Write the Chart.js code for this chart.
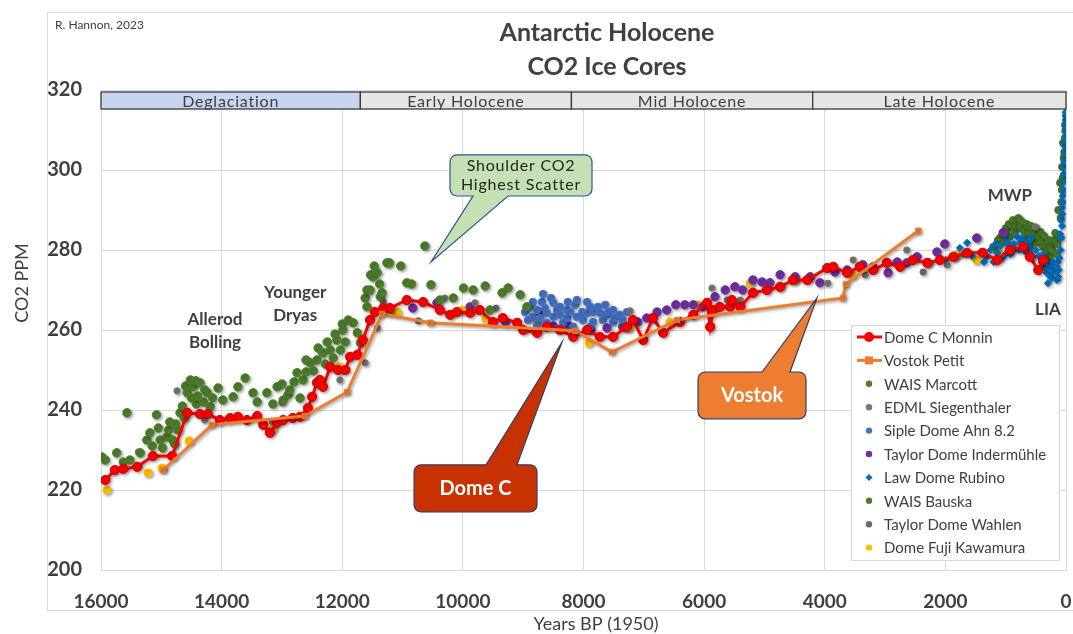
<!DOCTYPE html>
<html>
<head>
<meta charset="utf-8">
<title>Antarctic Holocene CO2 Ice Cores</title>
<script src="https://cdn.jsdelivr.net/npm/chart.js@4.4.0/dist/chart.umd.min.js"></script>
<style>
  html, body { margin: 0; padding: 0; background: #fff; }
  #wrap { width: 1073px; height: 634px; }
</style>
</head>
<body>
<div id="wrap"><canvas id="co2Chart" width="1073" height="634"></canvas></div>
<script>
// data: [years BP, CO2 ppm]
const domeCMonnin = [[15930,222.5],[15770,225],[15630,225.3],[15400,225.8],[15140,228.5],[14820,228.5],[14570,239.3],[14360,239],[14230,239],[14030,237.5],[13860,238],[13730,238.3],[13580,237.5],[13410,238.5],[13310,236.3],[13200,234.3],[13080,236.8],[12980,237.5],[12820,238],[12700,238.3],[12570,240.5],[12500,243.3],[12420,246.8],[12370,247.5],[12320,245.8],[12200,250.8],[12070,250],[11950,250],[11870,253.3],[11750,253.8],[11660,257.5],[11540,262.5],[11460,264.5],[11320,265.5],[11210,265.5],[10930,267.5],[10660,267],[10380,265],[10210,263.8],[10100,264.5],[9880,264.3],[9720,265],[9500,262],[9340,263],[9100,261.8],[9000,260],[8770,259.3],[8610,260.8],[8390,260],[8170,258.3],[7940,260],[7730,258.3],[7510,258.3],[7280,260.8],[7180,262.5],[7010,257.5],[6850,263],[6680,259.3],[6400,262],[6180,263.8],[5950,266.8],[5900,260.8],[5850,265],[5740,265.8],[5570,265.8],[5540,267.5],[5400,265.8],[5190,269.3],[4960,270],[4740,270.8],[4530,272.5],[4290,272.5],[3960,275.5],[3860,275.8],[3630,274.3],[3420,275.8],[3200,275],[2970,276.8],[2750,275.8],[2540,277.5],[2300,276.8],[2090,277.5],[1870,278.3],[1640,279.3],[1380,279.3],[1140,277.5],[930,280],[710,280.8],[600,278.3],[460,275],[380,277.5]];

const vostokPetit = [[14970,225],[14160,236.3],[12620,238.5],[11920,244.5],[11340,264],[10540,261.8],[8140,259.8],[7530,254.5],[6450,262.5],[3700,268],[3650,271.5],[2450,284.8]];

const waisMarcott = [[15990,228.3],[15930,227.5],[15740,229.3],[15630,227],[15570,239.3],[15520,227.5],[15350,229.3],[15240,232.5],[15190,234.3],[15150,231],[15080,238.8],[15050,235.5],[15020,232.5],[14980,230.5],[14910,233.3],[14880,235],[14860,237],[14810,232.5],[14780,231.5],[14760,236.5],[14730,235],[14690,239.3],[14650,241],[14620,238],[14600,246],[14570,244.3],[14520,247.5],[14500,243],[14470,245.8],[14430,247.3],[14420,241.5],[14400,243.5],[14360,246.8],[14300,242],[14280,245],[14240,244.3],[14190,240.8],[14150,243],[14060,245.5],[13980,242.5],[13810,243.3],[13730,245.8],[13610,248],[13480,244.3],[13410,242],[13250,244.3],[13150,241.5],[13080,245.8],[13000,246.5],[12980,242.5],[12900,243.8],[12870,245],[12800,247],[12750,249.3],[12700,243],[12650,247.5],[12600,249.5],[12600,252.5],[12530,251.8],[12480,249.8],[12420,252.5],[12400,255.5],[12320,254.3],[12280,251.5],[12250,257],[12200,255],[12150,253],[12120,259],[12090,257.5],[12030,255],[12000,261.5],[11990,260],[11950,257],[11900,262.5],[11820,261.8],[11750,259.3],[11700,256.8],[11620,268],[11590,265.8],[11590,270],[11540,270],[11530,273.8],[11490,273.3],[11470,276],[11420,274.3],[11380,271.5],[11370,268.3],[11340,269.3],[11260,276.8],[11220,276.8],[11030,276],[10930,271.8],[10850,271.5],[10630,281],[10530,271.3],[10380,267.5],[10160,268],[9990,270.5],[9830,270],[9630,271],[9550,265],[9350,269.3],[9250,270.5],[9050,268.8],[8940,265.8]];

const edmlSiegenthaler = [[15380,229.5],[14740,244.8],[14280,237.5],[13160,237],[13000,241.8],[12340,254.3],[12040,247.5],[11620,251.8],[11420,260.5],[11210,264.3],[10300,268],[9800,266.8],[8820,260],[7230,264.8],[5870,270.5],[5400,267.5],[4740,270.8],[3950,271.7],[3530,277.5],[2640,280],[1970,276.3],[510,285.8]];

const sipleDomeAhn = [[8970,264.5],[8920,262.5],[8890,265.8],[8840,267],[8840,263.3],[8770,265],[8770,261.3],[8720,263],[8690,267],[8670,269],[8640,265.5],[8610,264.3],[8610,261.8],[8540,268],[8500,266.8],[8500,263.3],[8440,265],[8390,265.8],[8390,263.8],[8340,261.8],[8270,265],[8270,263],[8260,267],[8220,264.5],[8170,260.8],[8140,266.3],[8110,267.5],[8110,263.3],[8020,264.5],[8010,262.5],[7940,267],[7940,264.3],[7890,265.8],[7890,260.8],[7840,264.5],[7840,262],[7760,265.8],[7730,264.3],[7680,262.5],[7640,266.3],[7610,263.8],[7590,264.5],[7510,265],[7510,262],[7480,263],[7400,263.8],[7350,262.5],[7280,264.5]];

const taylorDomeIndermuhle = [[10830,265.5],[10430,266.8],[9880,265.8],[9290,262],[8720,264.3],[8500,261],[8240,261],[7880,260],[7610,260.5],[7350,260.8],[7100,262],[6950,263],[6780,264.5],[6620,265],[6470,266.3],[6320,266.3],[6180,266.3],[6020,265.8],[5820,268.3],[5650,270],[5490,270.8],[5360,270],[5190,272.5],[5040,272],[4910,271.8],[4740,273.8],[4490,273.3],[4240,273.3],[4080,271.8],[3830,274.5],[3630,275],[3370,276.3],[3200,275.8],[2950,274.3],[2800,277],[2640,276.8],[2470,278.3],[2290,276.8],[2140,279.5],[2010,281.5],[1480,283],[1040,284.3],[380,277.5]];

const lawDomeRubino = [[2000,277.5],[1850,278],[1760,280.5],[1700,279],[1640,281.8],[1560,278.5],[1480,283],[1420,279.5],[1360,277],[1310,278.3],[1250,280],[1200,277],[1170,281.5],[1140,279.3],[1090,281],[1060,278],[1000,279],[980,282.5],[950,281.5],[920,279],[880,280],[860,281.5],[810,283.3],[780,280],[760,282],[730,283],[700,280.5],[670,279.5],[640,282],[620,281],[600,279.5],[580,283],[550,278.3],[500,280],[450,278.5],[400,276.8],[380,279],[350,275.5],[340,277.5],[320,274.3],[300,271.7],[290,275.5],[270,273.5],[250,276.5],[240,273],[230,275],[210,277],[200,274.5],[180,276],[160,275.8],[150,272.5],[140,277],[130,273.3],[120,275],[110,278],[100,284],[90,280],[85,287.5],[80,283],[70,290.5],[65,286],[60,289],[55,293.5],[50,292],[45,297],[40,295],[38,299],[35,300.8],[30,302],[28,304],[25,306],[20,307.5],[15,309.5],[12,311],[8,312.5],[5,313.5],[3,314.5],[0,314]];

const waisBauska = [[1210,280.8],[1150,281.5],[1130,282.5],[1100,283],[1060,283.8],[1050,284.5],[1010,282],[1000,285.5],[980,285],[950,286.5],[930,283.3],[900,286.3],[880,287.5],[850,284.5],[840,286],[810,287],[790,288],[760,287.5],[760,285.5],[740,286],[710,286.8],[700,285],[680,284.5],[680,282.5],[650,286.5],[630,285.8],[620,284],[600,284.3],[600,280.8],[580,286],[550,285],[550,283],[530,284],[510,281.8],[500,285.5],[480,283.3],[460,283],[430,281.8],[420,284.5],[400,282],[380,280.8],[360,283.5],[340,281],[320,279.5],[300,281.8],[280,282.5],[270,278.3],[250,280.5],[230,280],[215,281.8],[200,282.5],[180,284.3],[160,279],[140,281.5],[130,290],[120,283.5],[100,296.8],[90,288],[80,292],[70,295],[66,300.8],[60,298],[50,306.8],[40,303],[30,304.5],[20,308],[17,311.3],[10,310]];

const taylorDomeWahlen = [[11320,267],[10740,262.3],[9450,265.5],[5620,267.5],[3330,273.8],[2370,274.5]];

const domeFujiKawamura = [[15900,220],[15220,224.3],[14990,225.5],[14540,232.3],[13150,235.3],[12050,250.8],[11090,264.5],[10010,265],[9620,262.8],[8770,262.3],[7910,256.8],[7250,260.5],[6570,262],[6100,266.3],[5240,271.7],[4490,272.5],[3550,273.8],[1810,278.8],[1480,277.5],[1130,279.3],[930,281],[710,280.5]];

const yTicks = [200, 220, 240, 260, 280, 300, 320];
const xTicks = [16000, 14000, 12000, 10000, 8000, 6000, 4000, 2000, 0];

const phaseNames = ['Deglaciation', 'Early Holocene', 'Mid Holocene', 'Late Holocene'];
const phaseStart = [16000, 11700, 8200, 4200];
const phaseEnd = [11700, 8200, 4200, 0];
const phaseFill = ['#c9d5ee', '#e5e5e5', '#e5e5e5', '#e5e5e5'];

// event labels [text lines, year, ppm]
const eventLabels = [
    [['Allerod', 'Bolling'], 14110, 262.5],
    [['Younger', 'Dryas'], 12780, 269.3],
    [['MWP'], 930, 293.5],
    [['LIA'], 300, 265]
];

const FONT = 'Lato, "Open Sans", "Liberation Sans", sans-serif';
const GREY = '#404040';

const toXY = arr => arr.map(p => ({ x: p[0], y: p[1] }));

const seriesList = [
    { label: 'Dome C Monnin', data: domeCMonnin, color: '#ff0000', border: '#d40000', r: 4.6, style: 'circle', line: true },
    { label: 'Vostok Petit', data: vostokPetit, color: '#ed7d31', border: '#ed7d31', r: 3.8, style: 'rect', line: true },
    { label: 'WAIS Marcott', data: waisMarcott, color: '#4e7f2c', border: '#4e7f2c', r: 4.2, style: 'circle' },
    { label: 'EDML Siegenthaler', data: edmlSiegenthaler, color: '#767676', border: '#767676', r: 3.1, style: 'circle' },
    { label: 'Siple Dome Ahn 8.2', data: sipleDomeAhn, color: '#4472c4', border: '#4472c4', r: 3.7, style: 'circle' },
    { label: 'Taylor Dome Indermühle', data: taylorDomeIndermuhle, color: '#7030a0', border: '#7030a0', r: 4.2, style: 'circle' },
    { label: 'Law Dome Rubino', data: lawDomeRubino, color: '#0070c0', border: '#0070c0', r: 3.6, style: 'rectRot' },
    { label: 'WAIS Bauska', data: waisBauska, color: '#4e7f2c', border: '#3d6b22', r: 3.4, style: 'circle' },
    { label: 'Taylor Dome Wahlen', data: taylorDomeWahlen, color: '#6b6b6b', border: '#6b6b6b', r: 3.1, style: 'circle' },
    { label: 'Dome Fuji Kawamura', data: domeFujiKawamura, color: '#ffc000', border: '#ffc000', r: 4, style: 'circle' }
];

// draw order: first in list ends up on top, like chart.js does by default
const datasets = seriesList.map((s, i) => ({
    label: s.label,
    data: toXY(s.data),
    showLine: !!s.line,
    borderColor: s.line ? s.color : s.border,
    backgroundColor: s.color,
    borderWidth: s.line ? 3 : 1,
    pointBorderColor: s.border,
    pointBackgroundColor: s.color,
    pointBorderWidth: 1,
    pointRadius: s.r,
    pointStyle: s.style,
    tension: 0,
    order: i === 1 ? -1 : i
}));

// callout boxes in data units: box corners, pointer base and tip
const callouts = [
    { lines: ['Shoulder CO2', 'Highest Scatter'], box: [10213, 303.8, 7859, 293.5], base: [9832, 9252], edge: 'bottom', tip: [10528, 277],
      fill: '#c5e0b4', stroke: '#2f5597', text: '#262626', font: '16px ' + FONT, spacing: '0.8px' },
    { lines: ['Dome C'], box: [10810, 226.3, 8771, 214.5], base: [9616, 9102], edge: 'top', tip: [8356, 257],
      fill: '#c83200', stroke: '#2f3f6f', text: '#ffffff', font: 'bold 20px ' + FONT, spacing: '0px' },
    { lines: ['Vostok'], box: [6101, 249.5, 4311, 237.8], base: [5040, 4576], edge: 'top', tip: [4128, 268],
      fill: '#ed7d31', stroke: '#2f3f6f', text: '#ffffff', font: 'bold 20px ' + FONT, spacing: '0px' }
];

function drawCallout(ctx, xs, ys, c) {
    const x1 = xs.getPixelForValue(c.box[0]), x2 = xs.getPixelForValue(c.box[2]);
    const y1 = ys.getPixelForValue(c.box[1]), y2 = ys.getPixelForValue(c.box[3]);
    const ba = xs.getPixelForValue(c.base[0]), bb = xs.getPixelForValue(c.base[1]);
    const tx = xs.getPixelForValue(c.tip[0]), ty = ys.getPixelForValue(c.tip[1]);
    const r = 7;
    ctx.beginPath();
    ctx.moveTo(x1 + r, y1);
    if (c.edge === 'top') { ctx.lineTo(ba, y1); ctx.lineTo(tx, ty); ctx.lineTo(bb, y1); }
    ctx.lineTo(x2 - r, y1);
    ctx.arcTo(x2, y1, x2, y1 + r, r);
    ctx.lineTo(x2, y2 - r);
    ctx.arcTo(x2, y2, x2 - r, y2, r);
    if (c.edge === 'bottom') { ctx.lineTo(bb, y2); ctx.lineTo(tx, ty); ctx.lineTo(ba, y2); }
    ctx.lineTo(x1 + r, y2);
    ctx.arcTo(x1, y2, x1, y2 - r, r);
    ctx.lineTo(x1, y1 + r);
    ctx.arcTo(x1, y1, x1 + r, y1, r);
    ctx.closePath();
    ctx.fillStyle = c.fill;
    ctx.fill();
    ctx.lineWidth = 1.2;
    ctx.strokeStyle = c.stroke;
    ctx.stroke();
    ctx.fillStyle = c.text;
    ctx.font = c.font;
    ctx.letterSpacing = c.spacing;
    ctx.textAlign = 'center';
    ctx.textBaseline = 'middle';
    const cx = (x1 + x2) / 2, cy = (y1 + y2) / 2;
    const lh = 19;
    c.lines.forEach((t, i) => {
        ctx.fillText(t, cx, cy + (i - (c.lines.length - 1) / 2) * lh);
    });
    ctx.letterSpacing = '0px';
}

function drawLegend(ctx) {
    const left = 851, top = 325, w = 208, h = 235;
    ctx.fillStyle = '#ffffff';
    ctx.fillRect(left, top, w, h);
    ctx.strokeStyle = '#d9d9d9';
    ctx.lineWidth = 1;
    ctx.strokeRect(left + 0.5, top + 0.5, w, h);
    ctx.font = '15px ' + FONT;
    ctx.textAlign = 'left';
    ctx.textBaseline = 'middle';
    seriesList.forEach((s, i) => {
        const y = top + 12 + i * 23.4;
        const mx = 869;
        if (s.line) {
            ctx.strokeStyle = s.color;
            ctx.lineWidth = 3;
            ctx.beginPath();
            ctx.moveTo(857, y);
            ctx.lineTo(882, y);
            ctx.stroke();
        }
        ctx.fillStyle = s.color;
        ctx.beginPath();
        if (s.style === 'rect') {
            ctx.fillRect(mx - 4, y - 4, 8, 8);
        } else if (s.style === 'rectRot') {
            ctx.moveTo(mx, y - 3.5); ctx.lineTo(mx + 3.5, y); ctx.lineTo(mx, y + 3.5); ctx.lineTo(mx - 3.5, y);
            ctx.closePath(); ctx.fill();
        } else {
            ctx.arc(mx, y, s.line ? 5 : 3.2, 0, Math.PI * 2);
            ctx.fill();
        }
        ctx.fillStyle = GREY;
        ctx.fillText(s.label, 884, y + 1);
    });
}

const extrasPlugin = {
    id: 'extras',
    beforeDraw(chart) {
        const ctx = chart.ctx;
        ctx.save();
        ctx.fillStyle = '#ffffff';
        ctx.fillRect(0, 0, chart.width, chart.height);
        ctx.strokeStyle = '#d9d9d9';
        ctx.lineWidth = 1;
        ctx.strokeRect(47.5, 12.5, chart.width, 598);
        ctx.restore();
    },
    beforeDatasetsDraw(chart) {
        const ctx = chart.ctx;
        ctx.save();
        ctx.shadowColor = 'rgba(0,0,0,0.35)';
        ctx.shadowBlur = 3;
        ctx.shadowOffsetX = 1.5;
        ctx.shadowOffsetY = 1.5;
    },
    afterDatasetsDraw(chart) {
        chart.ctx.restore();
    },
    afterDraw(chart) {
        const ctx = chart.ctx;
        const xs = chart.scales.x, ys = chart.scales.y;
        ctx.save();

        // phase band along the top of the plot
        const bTop = ys.getPixelForValue(319.5), bBot = ys.getPixelForValue(315.25);
        phaseNames.forEach((name, i) => {
            const a = xs.getPixelForValue(phaseStart[i]), b = xs.getPixelForValue(phaseEnd[i]);
            ctx.fillStyle = phaseFill[i];
            ctx.fillRect(a, bTop, b - a, bBot - bTop);
            ctx.strokeStyle = '#3a3a3a';
            ctx.lineWidth = 1.3;
            ctx.strokeRect(a, bTop, b - a, bBot - bTop);
            ctx.fillStyle = GREY;
            ctx.font = '16px ' + FONT;
            ctx.letterSpacing = '0.8px';
            ctx.textAlign = 'center';
            ctx.textBaseline = 'middle';
            ctx.fillText(name, (a + b) / 2, (bTop + bBot) / 2 + 1);
            ctx.letterSpacing = '0px';
        });

        // event labels
        ctx.font = 'bold 17px ' + FONT;
        ctx.fillStyle = GREY;
        eventLabels.forEach(([lines, yr, v]) => {
            const x = xs.getPixelForValue(yr), y = ys.getPixelForValue(v);
            lines.forEach((t, i) => ctx.fillText(t, x, y + i * 23));
        });

        callouts.forEach(c => drawCallout(ctx, xs, ys, c));
        drawLegend(ctx);

        // titles
        ctx.fillStyle = GREY;
        ctx.textAlign = 'center';
        ctx.textBaseline = 'middle';
        ctx.font = 'bold 25px ' + FONT;
        ctx.fillText('Antarctic Holocene', 607, 33);
        ctx.fillText('CO2 Ice Cores', 607, 67);
        ctx.font = '12px ' + FONT;
        ctx.textAlign = 'left';
        ctx.fillText('R. Hannon, 2023', 55, 25);

        // axis titles
        ctx.font = '18px ' + FONT;
        ctx.textAlign = 'center';
        ctx.fillText('Years BP (1950)', 596, 624);
        ctx.translate(22, 283);
        ctx.rotate(-Math.PI / 2);
        ctx.fillText('CO2 PPM', 0, 0);
        ctx.restore();
    }
};

new Chart(document.getElementById('co2Chart'), {
    type: 'scatter',
    data: { datasets },
    options: {
        responsive: false,
        animation: false,
        devicePixelRatio: 1,
        layout: { padding: { top: 90, right: 7, left: 0, bottom: 0 } },
        plugins: {
            legend: { display: false },
            title: { display: false },
            tooltip: { enabled: false }
        },
        scales: {
            x: {
                type: 'linear',
                reverse: true,
                min: xTicks[xTicks.length - 1],
                max: xTicks[0],
                afterBuildTicks: scale => { scale.ticks = xTicks.map(v => ({ value: v })); },
                afterFit: scale => {
                    scale.height = 64;
                    scale.paddingLeft = 0;
                    scale.paddingRight = 0;
                },
                grid: { color: '#d9d9d9', drawTicks: false },
                border: { color: '#d9d9d9' },
                ticks: {
                    padding: 20,
                    color: GREY,
                    font: { family: FONT, size: 19, weight: 'bold' },
                    callback: v => String(v)
                }
            },
            y: {
                type: 'linear',
                min: yTicks[0],
                max: yTicks[yTicks.length - 1],
                afterBuildTicks: scale => { scale.ticks = yTicks.map(v => ({ value: v })); },
                afterFit: scale => { scale.width = 101; },
                grid: { color: '#d9d9d9', drawTicks: false },
                border: { color: '#d9d9d9' },
                ticks: {
                    padding: 19,
                    color: GREY,
                    font: { family: FONT, size: 20, weight: 'bold' }
                }
            }
        }
    },
    plugins: [extrasPlugin]
});
</script>
</body>
</html>
